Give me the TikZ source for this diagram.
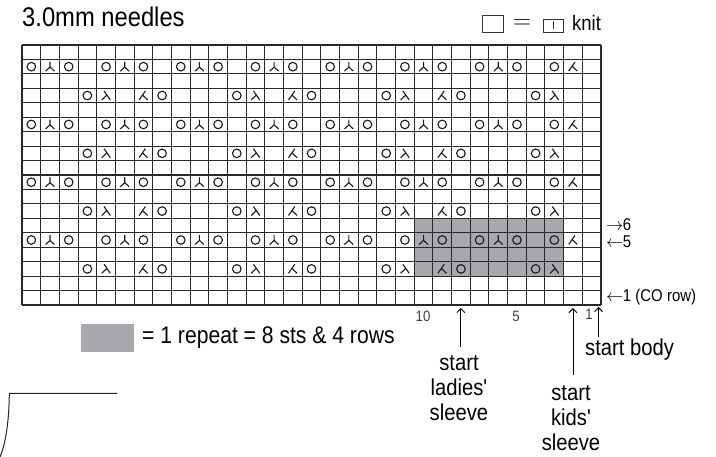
\documentclass[tikz,border=0pt]{standalone}
\usepackage{fontspec}
\newfontfamily\cf[FakeStretch=0.88]{Liberation Sans}
\usetikzlibrary{arrows.meta}
\definecolor{repgray}{RGB}{167,169,172}
\definecolor{gline}{RGB}{40,40,40}
\begin{document}
\begin{tikzpicture}[x=1pt,y=-1pt,
  gridln/.style={line width=1.05pt,draw=gline},
  sym/.style={line width=1.1pt,draw=black!90},
  yo/.pic={\draw[sym] (0,0) circle (4.3);},
  cdd/.pic={\draw[sym] (0,-4.8) -- (0,0.4) (-4.4,4.5) -- (0,0.4) -- (4.4,4.5);},
  leanr/.pic={\draw[sym] (-2,-4.6) -- (4.3,4.4) (0.9,-0.5) -- (-4.3,4.4);},
  leanl/.pic={\draw[sym] (2,-4.6) -- (-4.3,4.4) (-0.9,-0.5) -- (4.3,4.4);},
  lbl/.style={inner sep=0pt,text=black},
  uparr/.style={line width=0.9pt,-{Straight Barb[length=4pt,width=8pt]}},
  box/.style={draw=black!80,line width=0.8pt,inner sep=0pt}]
\useasboundingbox (0,0) rectangle (716,457);
\pgfmathsetmacro\cellw{579/31}
\pgfmathsetmacro\cellh{260/18}
% shaded repeat
\fill[repgray] ({22+21*\cellw},{305-6*\cellh}) rectangle ({22+29*\cellw},{305-2*\cellh});
% grid
\foreach \i in {0,...,31}{\draw[gridln] ({22+\i*\cellw},45) -- ({22+\i*\cellw},305);}
\foreach \j in {0,...,18}{\draw[gridln] (22,{45+\j*\cellh}) -- (601,{45+\j*\cellh});}
% symbols
\foreach \r in {5,9,13,17}{
  \foreach \k in {0,...,6}{
    \pic at ({22+(4*\k+0.5)*\cellw},{305-(\r-0.5)*\cellh}) {yo};
    \pic at ({22+(4*\k+1.5)*\cellw},{305-(\r-0.5)*\cellh}) {cdd};
    \pic at ({22+(4*\k+2.5)*\cellw},{305-(\r-0.5)*\cellh}) {yo};
  }
  \pic at ({22+28.5*\cellw},{305-(\r-0.5)*\cellh}) {yo};
  \pic at ({22+29.5*\cellw},{305-(\r-0.5)*\cellh}) {leanl};
}
\foreach \r in {3,7,11,15}{
  \foreach \k in {0,1,2}{
    \pic at ({22+(8*\k+3.5)*\cellw},{305-(\r-0.5)*\cellh}) {yo};
    \pic at ({22+(8*\k+4.5)*\cellw},{305-(\r-0.5)*\cellh}) {leanr};
    \pic at ({22+(8*\k+6.5)*\cellw},{305-(\r-0.5)*\cellh}) {leanl};
    \pic at ({22+(8*\k+7.5)*\cellw},{305-(\r-0.5)*\cellh}) {yo};
  }
  \pic at ({22+27.5*\cellw},{305-(\r-0.5)*\cellh}) {yo};
  \pic at ({22+28.5*\cellw},{305-(\r-0.5)*\cellh}) {leanr};
}
% title
\node[lbl,anchor=base west,font=\cf\fontsize{27}{30}\selectfont] (title) at (22,26.7) {3.0mm needles};
% knit legend
\node[box,minimum width=21pt,minimum height=17pt] (kbox1) at (492.5,23.5) {};
\node[lbl,font=\fontsize{26}{28}\selectfont] (keq) at (522,24) {$=$};
\node[box,minimum width=20pt,minimum height=13pt] (kbox2) at (553,25.5) {};
\draw[line width=0.7pt,black!80] ([yshift=-4pt]kbox2.center) -- ([yshift=4pt]kbox2.center);
\node[lbl,anchor=base west,font=\cf\fontsize{21}{24}\selectfont] (knit) at (572,31) {knit};
% row labels
\node[lbl,anchor=west,font=\cf\fontsize{17}{19}\selectfont] (r6) at (606,225) {$\rightarrow$\kern-0.5pt 6};
\node[lbl,anchor=west,font=\cf\fontsize{17}{19}\selectfont] (r5) at (606,242) {$\leftarrow$\kern-0.5pt 5};
\node[lbl,anchor=west,font=\cf\fontsize{17}{19}\selectfont] (r1) at (606,297.5) {$\leftarrow$\kern-0.5pt 1 (CO row)};
% column numbers
\node[lbl,text=black!75,font=\cf\fontsize{15}{18}\selectfont] (n10) at (423,316) {10};
\node[lbl,text=black!75,font=\cf\fontsize{15}{18}\selectfont] (n5) at (516,316) {5};
\node[lbl,text=black!75,font=\cf\fontsize{15}{18}\selectfont] (n1) at (589,314) {1};
% repeat legend
\node[fill=repgray,inner sep=0pt,minimum width=53pt,minimum height=28pt] (rep) at (107.5,338) {};
\node[lbl,anchor=west,font=\cf\fontsize{24}{26}\selectfont] (reptxt) at (142,338) {= 1 repeat = 8 sts \& 4 rows};
% start labels
\node[lbl,align=center,font=\cf\fontsize{23}{25}\selectfont] (ladies) at (459,388) {start\\ladies'\\sleeve};
\node[lbl,align=center,font=\cf\fontsize{23}{25}\selectfont] (kids) at (571,418) {start\\kids'\\sleeve};
\node[lbl,anchor=west,font=\cf\fontsize{23}{25}\selectfont] (body) at (585,350) {start body};
\coordinate (ladtip) at ({22+23.5*\cellw},308);
\coordinate (ladbase) at ({22+23.5*\cellw},347);
\coordinate (kidtip) at ({22+29.5*\cellw},308);
\coordinate (kidbase) at ({22+29.5*\cellw},375);
\coordinate (bodtip) at (598.5,307);
\coordinate (bodbase) at (598.5,337);
\draw[uparr] (ladbase) -- (ladtip);
\draw[uparr] (kidbase) -- (kidtip);
\draw[uparr] (bodbase) -- (bodtip);
% corner fragment
\coordinate (cornA) at (117.3,393.3);
\coordinate (cornB) at (9.3,393.3);
\coordinate (cornC) at (0,457);
\draw[line width=1pt,black!85] (cornA) -- (cornB) .. controls (9,425) and (5,445) .. (cornC);
\end{tikzpicture}
\end{document}
